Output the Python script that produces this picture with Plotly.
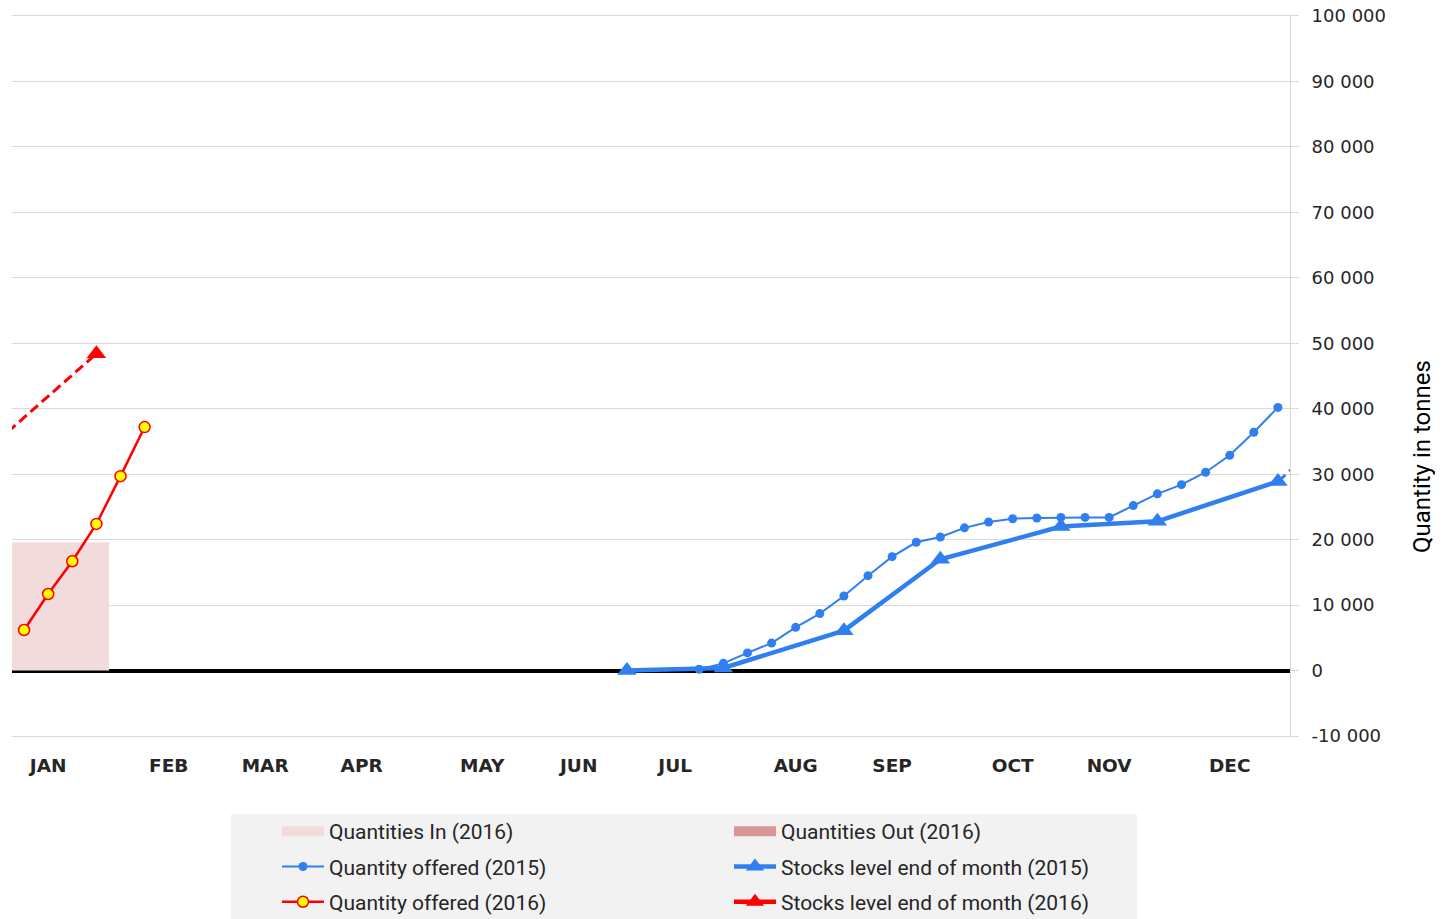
import plotly.graph_objects as go

# week index 0..52 along the x axis
month_ticks = [1, 6, 10, 14, 19, 23, 27, 32, 36, 41, 45, 50]
month_labels = ["JAN", "FEB", "MAR", "APR", "MAY", "JUN",
                "JUL", "AUG", "SEP", "OCT", "NOV", "DEC"]

y_ticks = [-10000, 0, 10000, 20000, 30000, 40000, 50000,
           60000, 70000, 80000, 90000, 100000]
y_tick_labels = ["-10 000", "0", "10 000", "20 000", "30 000", "40 000",
                 "50 000", "60 000", "70 000", "80 000", "90 000", "100 000"]

# Quantities In / Out (2016), January
qty_in_week = [1.5]
qty_in_2016 = [19600]
qty_out_week = [1.5]
qty_out_2016 = [None]

# Quantity offered (2015), weekly
offered_2015_weeks = list(range(28, 53))
offered_2015 = [200, 1100, 2700, 4200, 6600, 8700, 11400, 14500, 17400,
                19600, 20400, 21800, 22700, 23200, 23300, 23400, 23400,
                23400, 25200, 27000, 28400, 30300, 32900, 36400, 40200]

# Stocks level end of month (2015)
stocks_2015_weeks = [25, 29, 34, 38, 43, 47, 52]
stocks_2015 = [0, 400, 6100, 17000, 22000, 22800, 28900]

# Quantity offered (2016), weekly
offered_2016_weeks = [0, 1, 2, 3, 4, 5]
offered_2016 = [6200, 11700, 16700, 22400, 29700, 37200]

# Stocks level end of month (2016)
stocks_2016_weeks = [3]
stocks_2016 = [48400]

# year-end link between Dec 2015 and Jan 2016 stocks
link_2015_weeks = [52, 58]
link_2016_weeks = [-3, 3]
link_values = [28900, 48400]

BLUE = "#2f7ff0"
RED = "#ff0000"
PINK_IN = "#f2dcdb"
PINK_OUT = "#d99694"

fig = go.Figure()

fig.add_trace(go.Bar(x=qty_in_week, y=qty_in_2016, width=[4.05],
                     marker=dict(color=PINK_IN, line=dict(width=0)),
                     showlegend=False, hoverinfo="skip"))
fig.add_trace(go.Bar(x=qty_out_week, y=qty_out_2016, width=[4.05],
                     marker=dict(color=PINK_OUT, line=dict(width=0)),
                     showlegend=False, hoverinfo="skip"))

# link lines (dashed)
fig.add_trace(go.Scatter(x=link_2015_weeks, y=link_values, mode="lines",
                         line=dict(color=BLUE, width=3, dash="10px,5px"),
                         showlegend=False))
fig.add_trace(go.Scatter(x=link_2016_weeks, y=link_values, mode="lines",
                         line=dict(color=RED, width=3, dash="10px,5px"),
                         showlegend=False))

fig.add_trace(go.Scatter(x=stocks_2015_weeks, y=stocks_2015,
                         mode="lines+markers",
                         name="Stocks level end of month (2015)",
                         line=dict(color=BLUE, width=4.5),
                         marker=dict(symbol="triangle-up", size=17, color=BLUE),
                         legend="legend2", legendgroup="s15"))
fig.add_trace(go.Scatter(x=offered_2015_weeks, y=offered_2015,
                         mode="lines+markers",
                         name="Quantity offered (2015)",
                         line=dict(color=BLUE, width=2),
                         marker=dict(symbol="circle", size=9, color=BLUE),
                         legendgroup="o15"))
fig.add_trace(go.Scatter(x=offered_2016_weeks, y=offered_2016,
                         mode="lines+markers",
                         name="Quantity offered (2016)",
                         line=dict(color=RED, width=2.5),
                         marker=dict(symbol="circle", size=11, color="#ffff00",
                                     line=dict(color=RED, width=1.5)),
                         legendgroup="o16"))
fig.add_trace(go.Scatter(x=stocks_2016_weeks, y=stocks_2016,
                         mode="lines+markers",
                         name="Stocks level end of month (2016)",
                         line=dict(color=RED, width=4.5),
                         marker=dict(symbol="triangle-up", size=17, color=RED),
                         legend="legend2", legendgroup="s16"))

# legend-only entries for the bars (wide swatches)
fig.add_trace(go.Scatter(x=[None], y=[None], mode="lines",
                         name="Quantities In (2016)",
                         line=dict(color=PINK_IN, width=14), legendrank=1,
                         legendgroup="in16"))
fig.add_trace(go.Scatter(x=[None], y=[None], mode="lines",
                         name="Quantities Out (2016)",
                         line=dict(color=PINK_OUT, width=14), legendrank=1,
                         legend="legend2", legendgroup="out16"))

legend_font = dict(family="Roboto, sans-serif", size=21, color="#262626")

# the page body adds 8px on the left and top, so margins are reduced by 8;
# plot height 724 so the 100 000 / -10 000 grid lines sit just inside the range
PLOT_H = 724
fig.update_layout(
    width=1443,
    height=960,
    plot_bgcolor="white",
    paper_bgcolor="white",
    margin=dict(l=4, r=161, t=6, b=960 - 6 - PLOT_H),
    barmode="overlay",
    showlegend=True,
    legend=dict(x=(277 - 12) / 1278, y=-73 / PLOT_H, xanchor="left", yanchor="top",
                orientation="v", bgcolor="rgba(0,0,0,0)", font=legend_font,
                itemwidth=42, traceorder="grouped", tracegroupgap=5),
    legend2=dict(x=(729 - 12) / 1278, y=-73 / PLOT_H, xanchor="left", yanchor="top",
                 orientation="v", bgcolor="rgba(0,0,0,0)", font=legend_font,
                 itemwidth=42, traceorder="grouped", tracegroupgap=5),
    shapes=[dict(type="rect", xref="paper", yref="paper",
                 x0=(231 - 12) / 1278, x1=(1137 - 12) / 1278,
                 y0=-0.3, y1=-76 / PLOT_H,
                 fillcolor="#f2f2f2", line=dict(width=0), layer="below")],
    annotations=[dict(text="Quantity in tonnes", xref="paper", yref="paper",
                      x=(1422 - 12) / 1278, y=(738 - 457) / PLOT_H,
                      xanchor="center", yanchor="middle",
                      textangle=-90, showarrow=False,
                      font=dict(family="Roboto, sans-serif", size=24,
                                color="#000000"))],
)

fig.update_xaxes(
    range=[-0.5, 52.5], automargin=False,
    tickmode="array", tickvals=month_ticks, ticktext=month_labels,
    showgrid=False, zeroline=False, showline=False, ticks="",
    ticklabelstandoff=14,
    tickfont=dict(family="DejaVu Sans, sans-serif", size=18.5,
                  color="#262626", weight="bold"),
)

fig.update_yaxes(
    range=[-10300, 100300], side="right", automargin=False,
    tickmode="array", tickvals=y_ticks, ticktext=y_tick_labels,
    ticklabeloverflow="allow",
    showgrid=True, gridcolor="#d9d9d9", gridwidth=1,
    zeroline=True, zerolinecolor="black", zerolinewidth=4,
    showline=True, linecolor="#d9d9d9", linewidth=1,
    ticks="outside", ticklen=8, tickcolor="#d9d9d9",
    ticklabelstandoff=9,
    tickfont=dict(family="DejaVu Sans, sans-serif", size=18, color="#262626"),
)

fig.write_html("out.html")
